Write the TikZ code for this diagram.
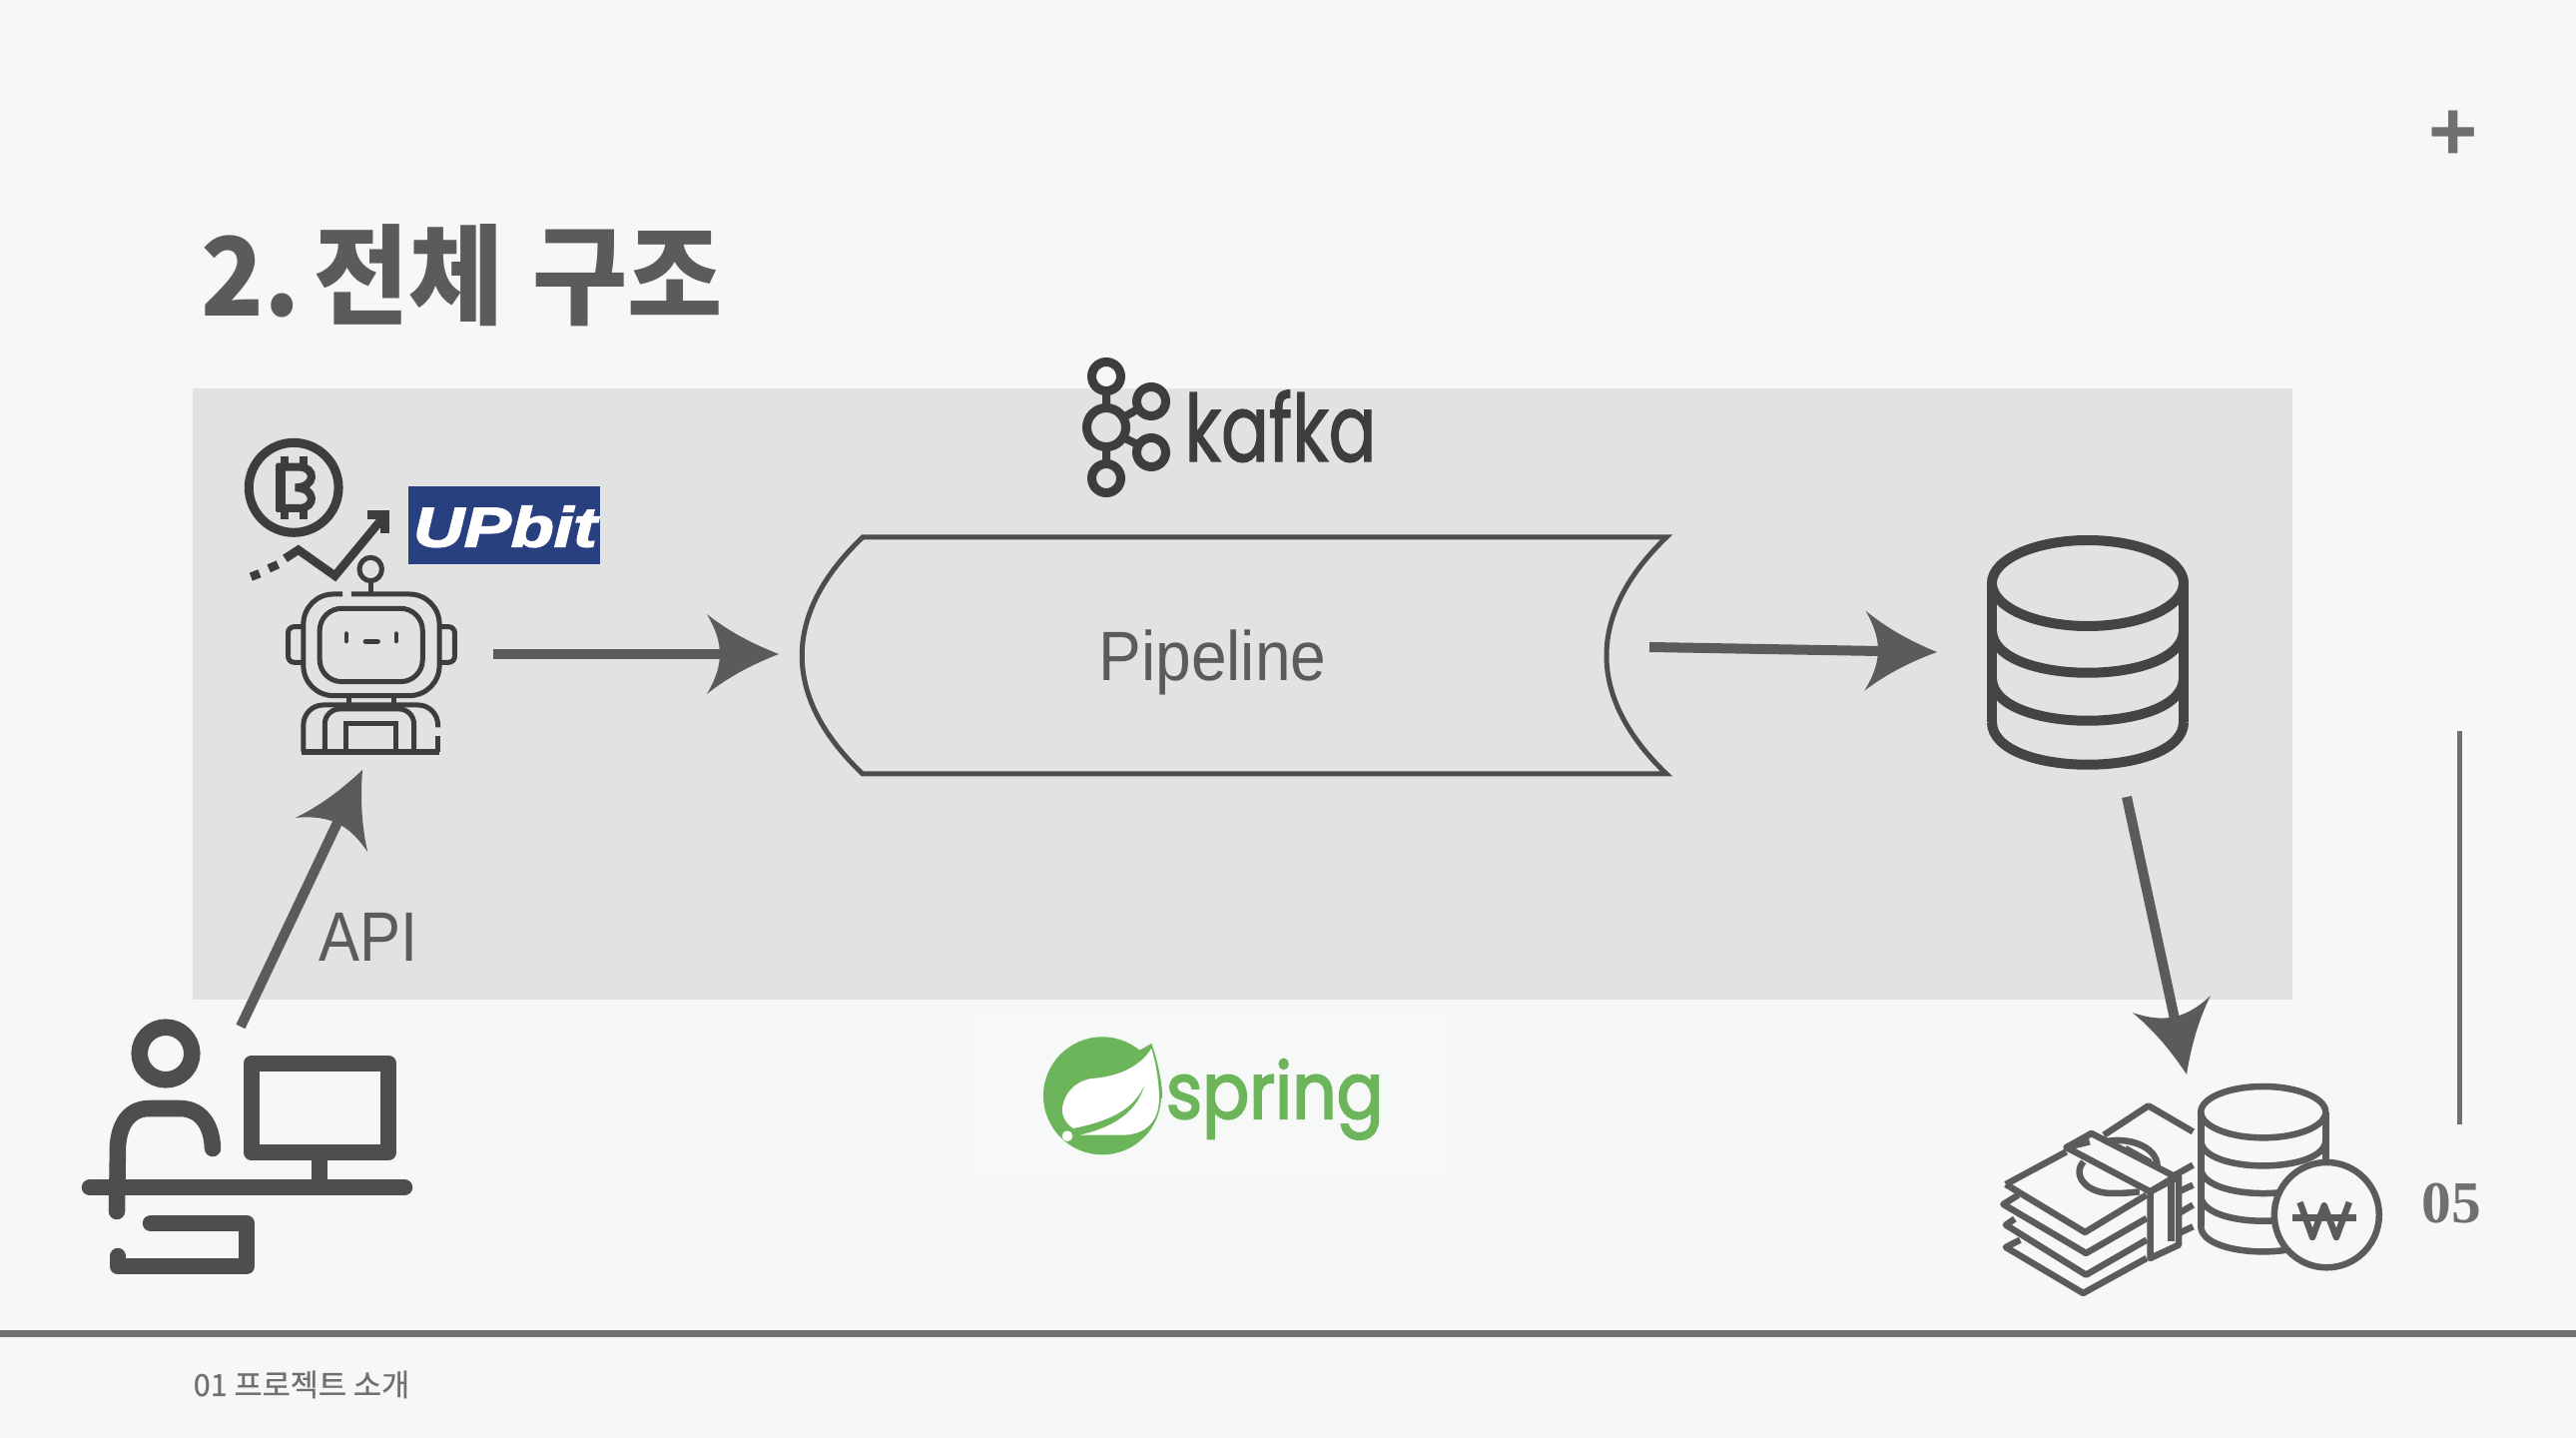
\documentclass[tikz,border=0pt]{standalone}
\usepackage{fontspec}
\usepackage{xcolor}
\usetikzlibrary{arrows.meta}
\setmainfont{Liberation Sans}
\newfontfamily\korfont{Noto Sans CJK KR}
\newfontfamily\footfont[FakeBold=0.6]{Noto Sans CJK KR}
\newfontfamily\numfont{Liberation Serif}
\newfontfamily\logofont[FakeBold=1.6]{Poppins}
\newfontfamily\springfont[FakeBold=2.6]{Poppins}
\newfontfamily\upbitfont[FakeBold=2.5]{Liberation Sans}
\definecolor{pagebg}{HTML}{F6F7F9}
\definecolor{panelbg}{HTML}{E2E2E2}
\definecolor{slate}{HTML}{5A5C5B}
\definecolor{footgray}{HTML}{716F70}
\definecolor{darkicon}{HTML}{3D3D3D}
\definecolor{dbgray}{HTML}{444444}
\definecolor{usergray}{HTML}{4E4E4E}
\definecolor{upbitblue}{HTML}{283F80}
\definecolor{springgreen}{HTML}{6DB55A}
\definecolor{springbg}{HTML}{F7F8F8}
\pgfdeclarearrow{
  name = swoop,
  setup code = {
    \pgfarrowssettipend{0pt}
    \pgfarrowssetlineend{-0.8\pgfarrowlength}
    \pgfarrowssavethe\pgfarrowlength
    \pgfarrowssavethe\pgfarrowwidth
  },
  drawing code = {
    \pgfpathmoveto{\pgfpointorigin}
    \pgfpathcurveto{\pgfpoint{-0.4\pgfarrowlength}{0.14\pgfarrowwidth}}{\pgfpoint{-0.72\pgfarrowlength}{0.3\pgfarrowwidth}}{\pgfpoint{-\pgfarrowlength}{0.5\pgfarrowwidth}}
    \pgfpathcurveto{\pgfpoint{-0.87\pgfarrowlength}{0.3\pgfarrowwidth}}{\pgfpoint{-0.82\pgfarrowlength}{0.15\pgfarrowwidth}}{\pgfpoint{-0.82\pgfarrowlength}{0pt}}
    \pgfpathcurveto{\pgfpoint{-0.82\pgfarrowlength}{-0.15\pgfarrowwidth}}{\pgfpoint{-0.87\pgfarrowlength}{-0.3\pgfarrowwidth}}{\pgfpoint{-\pgfarrowlength}{-0.5\pgfarrowwidth}}
    \pgfpathcurveto{\pgfpoint{-0.72\pgfarrowlength}{-0.3\pgfarrowwidth}}{\pgfpoint{-0.4\pgfarrowlength}{-0.14\pgfarrowwidth}}{\pgfpointorigin}
    \pgfpathclose
    \pgfusepathqfill
  },
  parameters = {\the\pgfarrowlength,\the\pgfarrowwidth},
  defaults = {length=0.72cm,width=0.8cm}
}
\begin{document}
\begin{tikzpicture}[x=0.01cm,y=-0.01cm]
    \tikzstyle{arrow} = [draw=slate,line width=0.1cm,->,>=swoop]
    \tikzstyle{caption} = [inner sep=0pt,anchor=base west,text=slate]
    \tikzstyle{robotline} = [draw=darkicon,line width=0.05cm]
    \tikzstyle{trendline} = [draw=darkicon,line width=0.085cm]
    \tikzstyle{kafkaring} = [draw=darkicon,line width=0.09cm]
    \tikzstyle{dbline} = [draw=dbgray,line width=0.1cm]
    \tikzstyle{userline} = [draw=usergray,line width=0.165cm,line cap=round,line join=round]
    \tikzstyle{moneyline} = [draw=slate,line width=0.065cm,line join=round]

    \useasboundingbox (0,0) rectangle (2580,1440);
    \fill[pagebg] (0,0) rectangle (2580,1440);
    \fill[panelbg] (193,389) rectangle (2296,1001);
    \fill[springbg] (977,1014) rectangle (1450,1180);
    \fill[footgray] (0,1332) rectangle (2580,1339);
    \fill[footgray] (2461,732) rectangle (2466,1126);

    \node[caption,xscale=0.95] (title) at (201,317) {\korfont\bfseries\fontsize{31}{36}\selectfont 2.\hspace{-5.5pt} 전체\hspace{1.5pt} 구조};
    \node[inner sep=0pt,text=footgray] (plus) at (2457,136) {\bfseries\fontsize{24}{28}\selectfont +};
    \node[caption,text=footgray] (pagenum) at (2425,1225) {\numfont\bfseries\fontsize{16.9}{20}\selectfont 05};
    \node[caption,text=footgray] (footer) at (193,1398) {\footfont\fontsize{8.7}{10}\selectfont 01 프로젝트 소개};

    % bitcoin, trend and robot
    \begin{scope}[shift={(60,400)},xscale=0.5102,yscale=0.3333]
        \draw[darkicon,line width=0.09cm] (459,265) ellipse [x radius=88,y radius=135];
        \draw[darkicon,line width=0.08cm] (425,203) -- (470,203) .. controls (503,203) and (503,265) .. (462,265) .. controls (503,265) and (503,327) .. (470,327) -- (425,327);
        \draw[darkicon,line width=0.1cm] (434,195) -- (434,335);
        \draw[darkicon,line width=0.08cm] (441,170) -- (441,200) (478,170) -- (478,200) (441,330) -- (441,360) (478,330) -- (478,360);
        \draw[trendline] (375,533) -- (392,523) (410,508) -- (428,496);
        \draw[trendline] (442,478) -- (468,452) -- (540,530) -- (636,352);
        \draw[trendline,line width=0.09cm] (604,346) -- (638,346) -- (638,402);
        \fill[upbitblue] (684,261) rectangle (1060,495);
        \node[inner sep=0pt,text=white,xscale=1.25] (upbit) at (874,382) {\upbitfont\bfseries\itshape\fontsize{16}{18}\selectfont UPbit};
        \draw[robotline] (610,510) ellipse [x radius=22,y radius=35];
        \draw[robotline] (610,545) -- (610,585);
        \draw[robotline,rounded corners=0.3cm] (555,585) -- (478,585) -- (478,890) -- (745,890) -- (745,585) -- (572,585);
        \draw[robotline,rounded corners=0.22cm] (510,628) rectangle (712,848);
        \draw[robotline,rounded corners=0.06cm] (478,683) -- (448,683) -- (448,790) -- (478,790);
        \draw[robotline,rounded corners=0.06cm] (745,683) -- (775,683) -- (775,790) -- (745,790);
        \draw[darkicon,line width=0.04cm,line cap=round] (562,703) -- (562,727) (660,703) -- (660,727);
        \draw[darkicon,line width=0.05cm,line cap=round] (600,727) -- (624,727);
        \draw[robotline] (567,890) -- (567,918) (655,890) -- (655,918);
        \draw[robotline,rounded corners=0.2cm] (742,985) -- (742,918) -- (478,918) -- (478,1058);
        \draw[robotline,line width=0.06cm] (475,1058) -- (745,1058);
        \draw[robotline] (742,1012) -- (742,1058);
        \draw[robotline,rounded corners=0.15cm] (520,1058) -- (520,930) -- (695,930) -- (695,1058);
        \draw[robotline] (562,1058) -- (562,975) -- (660,975) -- (660,1058);
    \end{scope}

    % kafka
    \draw[kafkaring] (1108,428) circle [radius=19.5];
    \draw[kafkaring] (1108,377) circle [radius=14.5];
    \draw[kafkaring] (1108,479) circle [radius=14.5];
    \draw[kafkaring] (1153,402) circle [radius=14.5];
    \draw[kafkaring] (1153,453) circle [radius=14.5];
    \draw[darkicon,line width=0.08cm] (1108,391) -- (1108,409) (1108,447) -- (1108,465) (1125,418) -- (1141,409) (1125,438) -- (1141,446);
    \node[caption,text=darkicon,xscale=0.76] (kafka) at (1186,462) {\logofont\fontsize{26.5}{30}\selectfont kafka};

    % pipeline
    \draw[draw=slate!85!black,line width=0.05cm] (864,538) -- (1669,538) .. controls (1589,615) and (1589,698) .. (1669,775) -- (864,775) .. controls (783,698) and (783,615) .. (864,538) -- cycle;
    \node[caption,xscale=0.915] (pipeline) at (1100,682) {\fontsize{19.9}{24}\selectfont Pipeline};
    \node[caption,xscale=0.88] (api) at (319,963) {\fontsize{19.9}{24}\selectfont API};

    % database
    \draw[dbline] (2091,584) ellipse [x radius=96,y radius=43];
    \draw[dbline] (1995,584) -- (1995,723) (2187,584) -- (2187,723);
    \draw[dbline] (1995,631) .. controls (1995,688) and (2187,688) .. (2187,631);
    \draw[dbline] (1995,679) .. controls (1995,736) and (2187,736) .. (2187,679);
    \draw[dbline] (1995,723) .. controls (1995,780) and (2187,780) .. (2187,723);

    % user at desk
    \draw[userline] (166,1055) circle [radius=26.3];
    \draw[userline] (117,1213) -- (118,1147) .. controls (120,1122) and (132,1110) .. (150,1110) -- (180,1110) .. controls (200,1110) and (212,1125) .. (213,1150);
    \draw[userline] (90,1189) -- (405,1189);
    \draw[usergray,line width=0.165cm,line join=round] (252,1065) rectangle (389,1154);
    \draw[usergray,line width=0.165cm] (320,1154) -- (320,1189);
    \draw[userline] (151,1225) -- (247,1225) -- (247,1268) -- (118,1268) -- (118,1258);

    % money and coins
    \begin{scope}[shift={(1950,1050)},xscale=0.3571,yscale=0.3333]
        \draw[moneyline] (887,191) ellipse [x radius=175,y radius=77];
        \draw[moneyline] (712,191) -- (712,533) (1062,191) -- (1062,340);
        \draw[moneyline] (712,275) .. controls (712,378) and (1062,378) .. (1062,275);
        \draw[moneyline] (712,358) .. controls (712,461) and (1062,461) .. (1062,358);
        \draw[moneyline] (712,441) .. controls (712,544) and (1062,544) .. (1062,441);
        \draw[moneyline] (712,533) .. controls (712,636) and (1062,636) .. (1062,533);
        \draw[moneyline,fill=pagebg] (1065,500) ellipse [x radius=147,y radius=158];
        \draw[moneyline] (990,462) -- (1025,567) -- (1058,472) -- (1092,567) -- (1128,462);
        \draw[moneyline] (970,508) -- (1148,508);
        \draw[moneyline] (400,280) -- (335,297) -- (570,430) -- (640,385) -- (405,255) -- (335,297);
        \draw[moneyline] (165,408) -- (335,310) (440,260) -- (565,172) -- (690,250);
        \draw[moneyline] (165,408) -- (387,552) -- (560,440);
        \draw[moneyline] (200,440) -- (158,468) -- (390,615) -- (560,510);
        \draw[moneyline] (190,512) -- (165,530) -- (390,680) -- (560,575);
        \draw[moneyline] (205,575) -- (165,597) -- (382,735) -- (560,630);
        \draw[moneyline] (570,430) -- (570,630) -- (650,590) -- (650,385) -- (570,430);
        \draw[moneyline] (628,400) -- (628,578);
        \draw[moneyline] (640,380) -- (690,350) (650,430) -- (690,410) (650,495) -- (690,470) (650,555) -- (690,535);
        \draw[moneyline] (383,340) .. controls (350,380) and (390,438) .. (470,435) .. controls (500,435) and (525,432) .. (540,430);
        \draw[moneyline] (445,280) .. controls (500,265) and (590,290) .. (590,355);
        \draw[moneyline] (500,300) -- (570,342);
    \end{scope}

    % spring
    \begin{scope}[shift={(960,1000)},scale=0.3333]
        \fill[springgreen] (432,292) circle [radius=177];
        \fill[springgreen] (500,180) -- (580,135) .. controls (600,190) and (615,270) .. (612,300) -- (560,300) -- cycle;
        \fill[white] (580,150) .. controls (545,205) and (480,235) .. (400,240) .. controls (340,250) and (310,300) .. (312,340) .. controls (315,365) and (330,380) .. (345,390) .. controls (440,370) and (530,340) .. (562,250) .. controls (540,340) and (470,385) .. (365,410) -- (500,410) .. controls (580,405) and (605,350) .. (603,290) .. controls (600,230) and (590,185) .. (580,150) -- cycle;
        \fill[white] (327,413) circle [radius=16];
        \node[inner sep=0pt,anchor=base west,text=springgreen,xscale=0.89] (spring) at (622,360) {\springfont\fontsize{22.2}{26}\selectfont spring};
    \end{scope}

    % connectors
    \coordinate (botout) at (494,655);
    \coordinate (pipein) at (780,655);
    \coordinate (pipeout) at (1652,648);
    \coordinate (dbin) at (1940,653);
    \coordinate (userout) at (241,1028);
    \coordinate (botin) at (363,771);
    \coordinate (dbout) at (2130,798);
    \coordinate (moneyin) at (2190,1076);
    \draw[arrow] (botout) -- (pipein);
    \draw[arrow] (pipeout) -- (dbin);
    \draw[arrow] (userout) -- (botin);
    \draw[arrow] (dbout) -- (moneyin);
\end{tikzpicture}
\end{document}
